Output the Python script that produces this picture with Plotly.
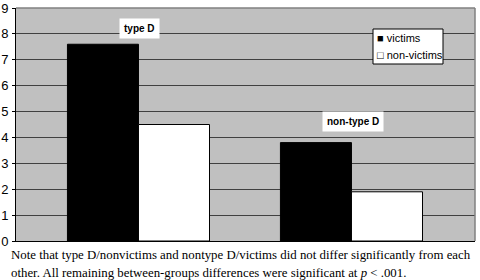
import plotly.graph_objects as go

categories = ["type D", "non-type D"]
victims = [7.6, 3.8]
non_victims = [4.5, 1.9]
y_ticks = [0, 1, 2, 3, 4, 5, 6, 7, 8, 9]
caption_1 = "Note that type D/nonvictims and nontype D/victims did not differ significantly from each"
caption_2 = "other. All remaining between-groups differences were significant at <i>p</i> < .001."

# plot area in pixels: x 16..475, y 8..241
PL, PR, PT, PB = 16, 475, 8, 241
def px(x):
    return (x - PL) / (PR - PL)
def py(y):
    return (PB - y) / (PB - PT)

fig = go.Figure()
fig.add_trace(go.Bar(x=[0, 1], y=victims, name="victims",
                     marker=dict(color="black", line=dict(color="black", width=1))))
fig.add_trace(go.Bar(x=[0, 1], y=non_victims, name="non-victims",
                     marker=dict(color="white", line=dict(color="black", width=1))))

fig.update_layout(
    width=480, height=280,
    margin=dict(l=PL, r=480 - PR, t=PT, b=280 - PB, autoexpand=False),
    paper_bgcolor="white",
    plot_bgcolor="#c0c0c0",
    barmode="group",
    bargap=0.333, bargroupgap=0,
    showlegend=False,
    font=dict(family="Liberation Sans, Arial", color="black"),
)
fig.update_xaxes(range=[-0.575, 1.58], showticklabels=False, showgrid=False,
                 showline=True, linecolor="black", linewidth=1, zeroline=False,
                 ticks="", automargin=False)
fig.update_yaxes(range=[0, 9], tickvals=y_ticks, showgrid=True, gridcolor="#404040",
                 gridwidth=1, showline=True, linecolor="black", linewidth=1,
                 ticks="outside", ticklen=3, tickcolor="black",
                 tickfont=dict(family="Liberation Sans, Arial", size=13, color="black"),
                 zeroline=False, ticklabelstandoff=1, automargin=False)

fig.add_shape(type="line", xref="paper", yref="paper", x0=0, x1=1, y0=1, y1=1,
              line=dict(color="#808080", width=1.5))
fig.add_shape(type="line", xref="paper", yref="paper", x0=1, x1=1, y0=0, y1=1,
              line=dict(color="#808080", width=1.5))

# category labels
fig.add_annotation(x=0.005, y=8.22, xref="x", yref="y", text="<b>" + categories[0] + "</b>",
                   showarrow=False, bgcolor="white", borderpad=4,
                   font=dict(family="Liberation Sans, Arial", size=10, color="black"))
fig.add_annotation(x=1.005, y=4.61, xref="x", yref="y", text="<b>" + categories[1] + "</b>",
                   showarrow=False, bgcolor="white", borderpad=4,
                   font=dict(family="Liberation Sans, Arial", size=10, color="black"))

# legend box
fig.add_shape(type="rect", xref="paper", yref="paper",
              x0=px(373), x1=px(443), y0=py(64), y1=py(29),
              line=dict(color="black", width=1), fillcolor="white", layer="above")
fig.add_annotation(x=px(375), y=py(38), xref="paper", yref="paper",
                   text="■ victims", showarrow=False, xanchor="left", yanchor="middle",
                   font=dict(family="Liberation Sans, Arial", size=11, color="black"))
fig.add_annotation(x=px(375), y=py(55), xref="paper", yref="paper",
                   text="□ non-victims", showarrow=False, xanchor="left", yanchor="middle",
                   font=dict(family="Liberation Sans, Arial", size=11, color="black"))

# caption
fig.add_annotation(x=px(9), y=py(254.5), xref="paper", yref="paper", text=caption_1,
                   showarrow=False, xanchor="left", yanchor="middle",
                   font=dict(family="Liberation Serif, Times New Roman", size=12.85, color="black"))
fig.add_annotation(x=px(9), y=py(272.5), xref="paper", yref="paper", text=caption_2,
                   showarrow=False, xanchor="left", yanchor="middle",
                   font=dict(family="Liberation Serif, Times New Roman", size=12.85, color="black"))

fig.write_html("out.html", config={"displayModeBar": False},
               post_script="document.body.style.margin='0px';")
